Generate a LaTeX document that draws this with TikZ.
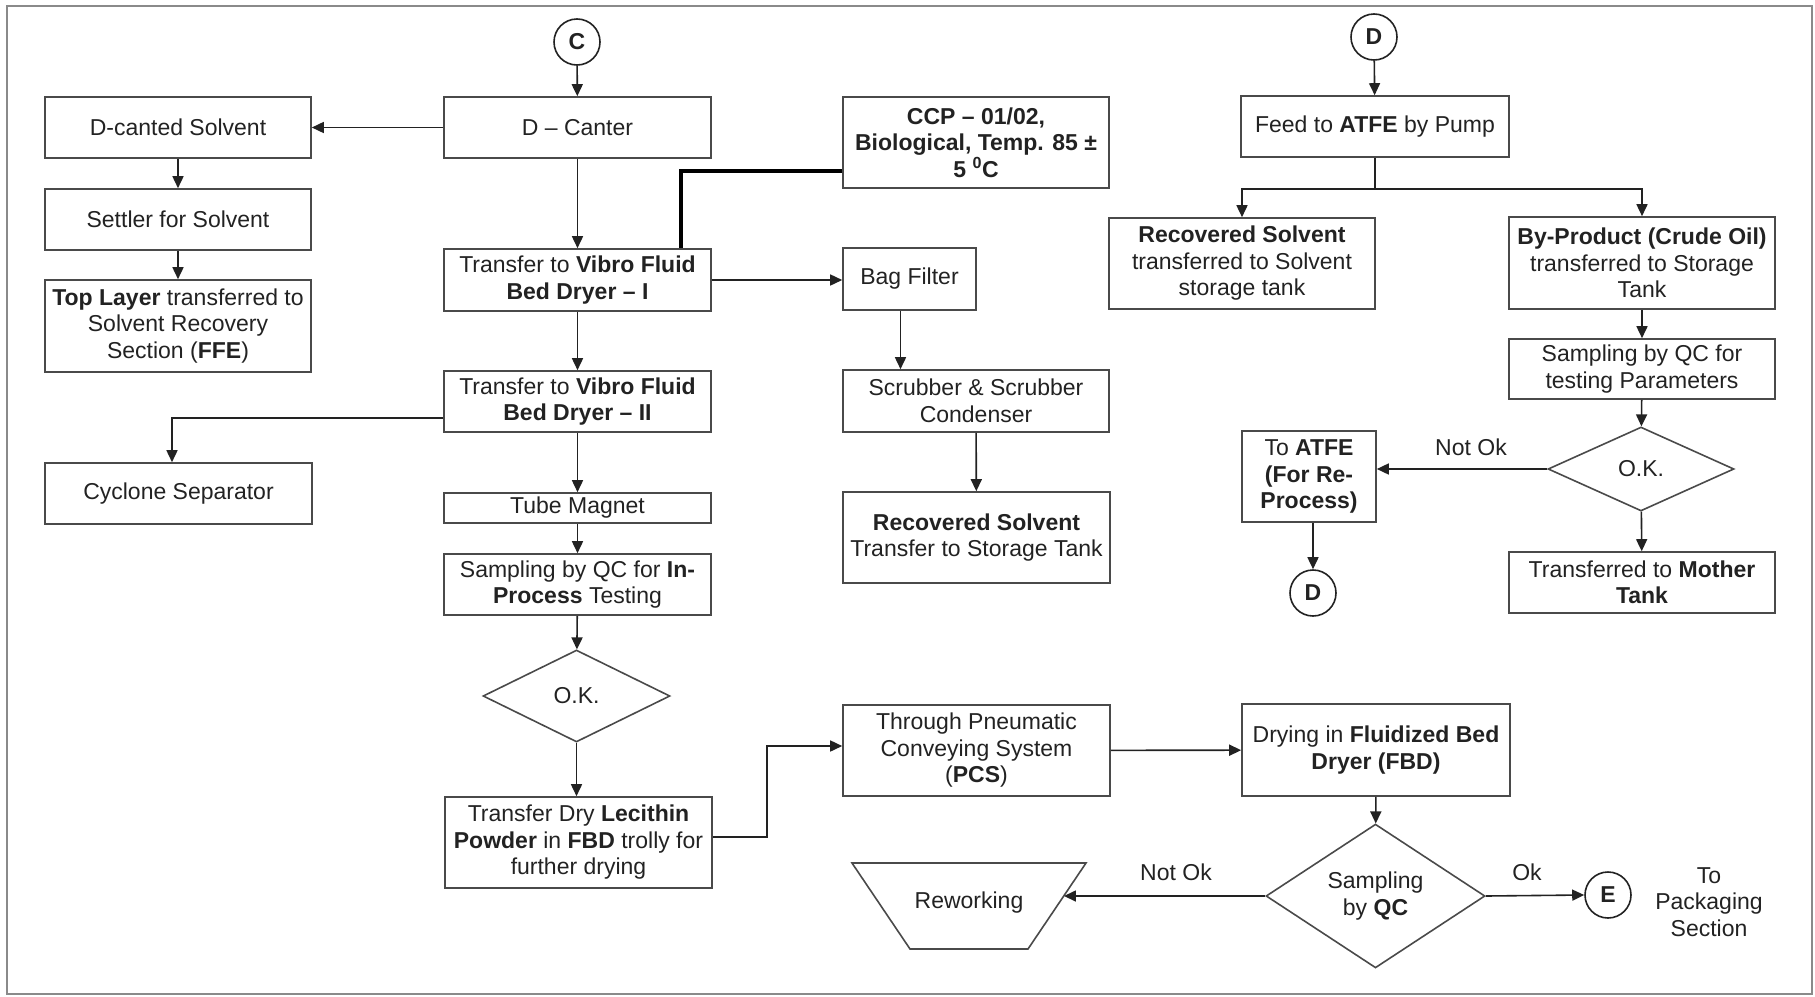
\documentclass[tikz,border=0pt]{standalone}
\usepackage{fontspec}
\setmainfont{Liberation Sans}
\usetikzlibrary{arrows.meta,shapes.geometric,calc}
\definecolor{ink}{HTML}{222222}
\definecolor{edgec}{HTML}{4A4A4A}
\definecolor{framec}{HTML}{8A8A8A}
\newcommand{\dfont}{\fontsize{23pt}{26.5pt}\selectfont}
\begin{document}
\begin{tikzpicture}[x=1pt,y=-1pt,
  every node/.style={font=\dfont, text=ink},
  box/.style={draw=edgec, line width=1.6pt, align=center, inner sep=1pt},
  dia/.style={draw=edgec, line width=1.6pt, diamond, align=center, inner sep=0pt},
  conn/.style={draw=ink, line width=1.6pt},
  arr/.style={conn, -{Triangle[length=12pt,width=11pt]}},
  heavy/.style={draw=black, line width=3.5pt},
  circ/.style={draw=ink, line width=1.6pt, circle, inner sep=0pt, minimum size=46pt, font=\dfont\bfseries},
  lbl/.style={inner sep=0pt}
]
\useasboundingbox (0,0) rectangle (1815,996);
\draw[draw=framec, line width=2pt] (7,6) rectangle (1812,994);

% ---- left / middle column
\node[circ] (C) at (577,42) {C};
\node[box, minimum width=267pt, minimum height=61pt] (dcanter) at (577.5,127.5) {D – Canter};
\node[box, minimum width=266pt, minimum height=61pt] (dsolv) at (178,127.5) {D-canted Solvent};
\node[box, minimum width=266pt, minimum height=61pt] (settler) at (178,219.5) {Settler for Solvent};
\node[box, minimum width=266pt, minimum height=92pt] (toplayer) at (178,326) {\textbf{Top Layer} transferred to\\Solvent Recovery\\Section (\textbf{FFE})};
\node[box, minimum width=266pt, minimum height=91pt, font=\dfont\bfseries] (ccp) at (976,142.5) {CCP – 01/02,\\Biological, Temp. 85 ±\\5 \textsuperscript{0}C};
\node[box, minimum width=267pt, minimum height=62pt] (vibro1) at (577.5,280) {Transfer to \textbf{Vibro Fluid}\\\textbf{Bed Dryer – I}};
\node[box, minimum width=133pt, minimum height=62pt] (bag) at (909.5,279) {Bag Filter};
\node[box, minimum width=267pt, minimum height=61pt] (vibro2) at (577.5,401.5) {Transfer to \textbf{Vibro Fluid}\\\textbf{Bed Dryer – II}};
\node[box, minimum width=266pt, minimum height=62pt] (scrub) at (976,401) {Scrubber \& Scrubber\\Condenser};
\node[box, minimum width=267pt, minimum height=61pt] (cyclone) at (178.5,493.5) {Cyclone Separator};
\node[box, minimum width=267pt, minimum height=30pt] (tube) at (577.5,508) {Tube Magnet};
\node[box, minimum width=267pt, minimum height=61pt] (samp1) at (577.5,584.5) {Sampling by QC for \textbf{In-}\\\textbf{Process} Testing};
\node[box, minimum width=267pt, minimum height=91pt] (recsolv1) at (976.5,537.5) {\textbf{Recovered Solvent}\\Transfer to Storage Tank};
\node[dia, minimum width=187pt, minimum height=92pt] (ok1) at (576.5,696) {O.K.};
\node[box, minimum width=267pt, minimum height=91pt] (transdry) at (578.5,842.5) {Transfer Dry \textbf{Lecithin}\\\textbf{Powder} in \textbf{FBD} trolly for\\further drying};
\node[box, minimum width=267pt, minimum height=91pt] (pcs) at (976.5,750.5) {Through Pneumatic\\Conveying System\\(\textbf{PCS})};
\node[box, minimum width=268pt, minimum height=92pt] (fbd) at (1376,750) {Drying in \textbf{Fluidized Bed}\\\textbf{Dryer (FBD)}};
\node[dia, minimum width=219pt, minimum height=118pt] (sampqc) at (1375.5,896) {Sampling\\by \textbf{QC}};
\node (rework) at (969,903) {Reworking};
\coordinate (rwTL) at (852,863);
\coordinate (rwTR) at (1086,863);
\coordinate (rwBR) at (1028,949);
\coordinate (rwBL) at (910,949);
\draw[draw=edgec, line width=1.6pt] (rwTL) -- (rwTR) -- (rwBR) -- (rwBL) -- cycle;
\path (rwTR) -- (rwBR) coordinate[pos=0.38] (rwin);
\node[circ] (E) at (1608,895) {E};
\node[align=center] (pack) at (1709,902) {To\\Packaging\\Section};
\node[lbl] (nok2) at (1176,872) {Not Ok};
\node[lbl] (okl) at (1527,872) {Ok};

% ---- right column
\node[circ] (Dtop) at (1374,37) {D};
\node[box, minimum width=268pt, minimum height=61pt] (feed) at (1375,126.5) {Feed to \textbf{ATFE} by Pump};
\node[box, minimum width=266pt, minimum height=91pt] (recsolv2) at (1242,263.5) {\textbf{Recovered Solvent}\\transferred to Solvent\\storage tank};
\node[box, minimum width=266pt, minimum height=92pt] (byprod) at (1642,263) {\textbf{By-Product (Crude Oil)}\\transferred to Storage\\Tank};
\node[box, minimum width=266pt, minimum height=60pt] (samp2) at (1642,369) {Sampling by QC for\\testing Parameters};
\node[dia, minimum width=186pt, minimum height=84pt] (ok2) at (1641,469) {O.K.};
\node[box, minimum width=134pt, minimum height=91pt, font=\dfont\bfseries] (toatfe) at (1309,476.5) {\mdseries To \bfseries ATFE\\(For Re-\\Process)};
\node[circ] (Dbot) at (1313,593) {D};
\node[box, minimum width=266pt, minimum height=61pt] (mother) at (1642,582.5) {Transferred to \textbf{Mother}\\\textbf{Tank}};
\node[lbl] (nok1) at (1471,447) {Not Ok};

% ---- connectors, left / middle
\draw[arr] (C) -- (dcanter);
\draw[arr] (dcanter) -- (dsolv);
\draw[arr] (dsolv) -- (settler);
\draw[arr] (settler) -- (toplayer);
\draw[arr] (dcanter) -- (vibro1);
\draw[heavy] ($(ccp.west)+(0,28.5)$) -| ($(vibro1.north)+(103.5,0)$);
\draw[arr] (vibro1.east) -- (vibro1.east -| bag.west);
\coordinate (bagout) at ($(bag.south)+(-9,0)$);
\draw[arr] (bagout) -- (bagout |- scrub.north);
\draw[arr] (scrub) -- (recsolv1);
\draw[arr] (vibro1) -- (vibro2);
\coordinate (cycout) at ($(vibro2.west)+(0,16.5)$);
\draw[arr] (cycout) -| ($(cyclone.north)+(-6.5,0)$);
\draw[arr] (vibro2) -- (tube);
\draw[arr] (tube) -- (samp1);
\draw[arr] (samp1) -- (ok1);
\draw[arr] (ok1.south) -- (ok1.south |- transdry.north);
\coordinate (tdout) at ($(transdry.east)+(0,-5.5)$);
\draw[arr] (tdout) -- ++(54,0) |- ($(pcs.west)+(0,-4.5)$);
\draw[arr] (pcs) -- (fbd);
\draw[arr] (fbd) -- (sampqc);
\draw[arr] (sampqc.west) -- (sampqc.west -| rwin);
\draw[arr] (sampqc.east) -- (E.west);

% ---- connectors, right
\draw[arr] (Dtop) -- (feed);
\coordinate (branch) at ($(feed.south)+(0,31)$);
\draw[conn] (feed.south) -- (branch);
\draw[arr] (branch) -| (recsolv2.north);
\draw[arr] (branch) -| (byprod.north);
\draw[arr] (byprod) -- (samp2);
\draw[arr] (samp2) -- (ok2);
\draw[arr] (ok2.west) -- (ok2.west -| toatfe.east);
\draw[arr] (Dbot |- toatfe.south) -- (Dbot);
\draw[arr] (ok2) -- (mother);
\end{tikzpicture}
\end{document}
